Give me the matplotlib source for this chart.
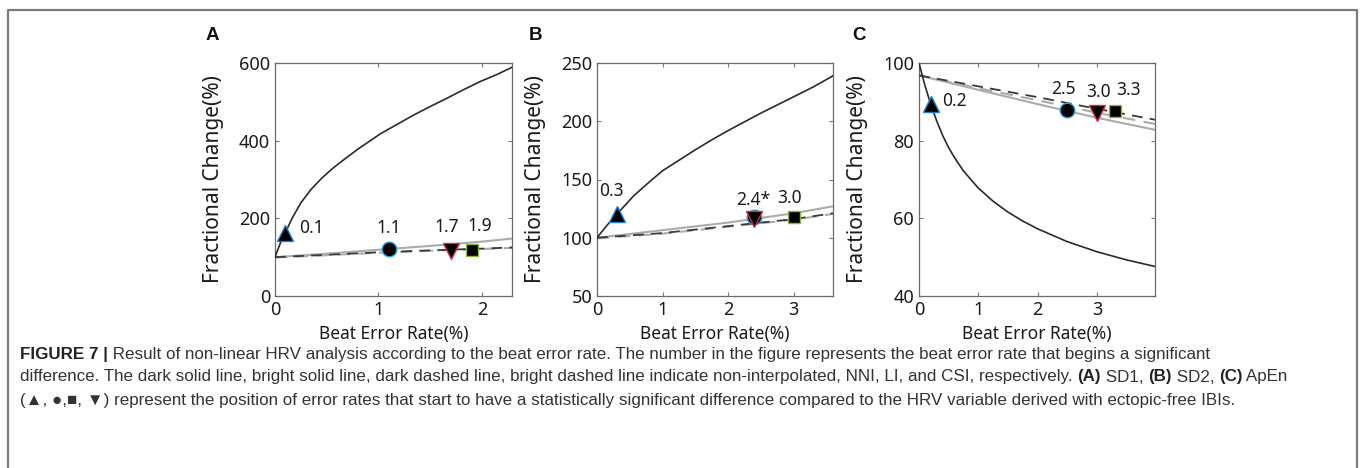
import matplotlib
matplotlib.use("Agg")
import matplotlib.pyplot as plt
from matplotlib.lines import Line2D

# ---------------- data ----------------
# Panel A (SD1)
A_x_dark = [0, 0.05, 0.1, 0.165, 0.25, 0.35, 0.45, 0.55, 0.65, 0.8, 1.02, 1.2, 1.34, 1.5, 1.66, 1.82, 1.98, 2.15, 2.29]
A_y_dark = [100, 135, 163, 200, 240, 275, 303, 327, 348, 378, 418, 445, 466, 488, 509, 531, 552, 571, 589]
A_x_flat = [0, 0.5, 1.0, 1.5, 2.0, 2.29]
A_y_light_solid = [100, 109, 119, 129, 140, 148]
A_y_dark_dashed = [100, 106, 112.5, 117.5, 122, 125]
A_y_light_dashed = [99, 105, 111.5, 116.5, 121, 124]
A_sig_x = [0.1, 1.1, 1.7, 1.9]
A_sig_y = [162, 122, 117, 119]
A_sig_labels = ["0.1", "1.1", "1.7", "1.9"]

# Panel B (SD2)
B_x_dark = [0, 0.15, 0.3, 0.56, 0.8, 1.0, 1.25, 1.5, 1.75, 2.0, 2.25, 2.5, 2.75, 3.0, 3.3, 3.6]
B_y_dark = [100, 110.5, 120, 136, 148, 157.5, 166.5, 175.5, 184, 192, 199.5, 207, 214, 221, 229.5, 239]
B_x_flat = [0, 1.0, 2.0, 3.0, 3.6]
B_y_light_solid = [100, 106.5, 113, 121, 127]
B_y_dark_dashed = [100, 104, 110, 116, 121]
B_y_light_dashed = [99.5, 103.5, 109.5, 115.5, 120.5]
B_sig_x = [0.3, 2.4, 2.4, 3.0]
B_sig_y = [120, 118, 116, 117.5]
B_sig_labels = ["0.3", "", "2.4*", "3.0"]

# Panel C (ApEn)
C_x_dark = [0, 0.1, 0.2, 0.3, 0.4, 0.5, 0.6, 0.75, 1.0, 1.25, 1.5, 1.75, 2.0, 2.5, 3.0, 3.5, 3.98]
C_y_dark = [100, 94.2, 89.3, 85.0, 81.3, 78.2, 75.6, 72.2, 67.8, 64.4, 61.6, 59.3, 57.3, 54.0, 51.4, 49.3, 47.6]
C_x_flat = [0, 1.0, 2.0, 3.0, 3.98]
C_y_light_solid = [96.8, 93.1, 89.4, 85.9, 82.8]
C_y_dark_dashed = [96.8, 94.0, 91.2, 88.2, 85.4]
C_y_light_dashed = [96.8, 93.5, 90.4, 87.2, 84.3]
C_sig_x = [0.2, 2.5, 3.0, 3.3]
C_sig_y = [89.5, 88.0, 87.2, 87.6]
C_sig_labels = ["0.2", "2.5", "3.0", "3.3"]

X_LABEL = "Beat Error Rate(%)"
Y_LABEL = "Fractional Change(%)"
PANEL_LETTERS = ["A", "B", "C"]

CAPTION = [
    [("FIGURE 7 |", True),
     (" Result of non-linear HRV analysis according to the beat error rate. The number in the figure represents the beat error rate that begins a significant", False)],
    [("difference. The dark solid line, bright solid line, dark dashed line, bright dashed line indicate non-interpolated, NNI, LI, and CSI, respectively. ", False),
     ("(A)", True), (" SD1, ", False), ("(B)", True), (" SD2, ", False), ("(C)", True), (" ApEn", False)],
    [("(\u25B2, \u25CF,\u25A0, \u25BC) represent the position of error rates that start to have a statistically significant difference compared to the HRV variable derived with ectopic-free IBIs.", False)],
]

# ---------------- styling ----------------
W, H = 1362, 468
fig = plt.figure(figsize=(W / 100, H / 100), dpi=100)
AX_FONT = ["Noto Sans", "DejaVu Sans"]
CAP_FONT = ["Liberation Sans", "DejaVu Sans"]
DARK = "#2a2a2a"
LIGHT = "#ababab"

# marker styles: triangle, circle, down-triangle, square
MARKERS = [("^", "#1f7fcf", 12), ("o", "#2aa0d8", 10.5), ("v", "#d0304a", 11.5), ("s", "#86b540", 8.5)]


def fx(px):
    return px / W


def fy(py):
    return 1 - py / H


# outer frame (open at bottom)
fig.add_artist(Line2D([fx(8), fx(8), fx(1357), fx(1357)], [0, fy(10), fy(10), 0],
                      transform=fig.transFigure, color="#7a7a7a", lw=1.6))

panels = [
    dict(left=275, right=512, xlim=(0, 2.29), ylim=(0, 600), yticks=[0, 200, 400, 600], xticks=[0, 1, 2],
         xd=A_x_dark, yd=A_y_dark, xf=A_x_flat, ls=A_y_light_solid, dd=A_y_dark_dashed, ld=A_y_light_dashed,
         sx=A_sig_x, sy=A_sig_y, sl=A_sig_labels,
         off=[(10, 4, "left"), (0, 15, "center"), (-3, 17, "center"), (6, 17, "center")]),
    dict(left=597, right=833, xlim=(0, 3.6), ylim=(50, 250), yticks=[50, 100, 150, 200, 250], xticks=[0, 1, 2, 3],
         xd=B_x_dark, yd=B_y_dark, xf=B_x_flat, ls=B_y_light_solid, dd=B_y_dark_dashed, ld=B_y_light_dashed,
         sx=B_sig_x, sy=B_sig_y, sl=B_sig_labels,
         off=[(-4, 17, "center"), (0, 14, "center"), (-1, 14, "center"), (-3, 14, "center")]),
    dict(left=919, right=1155, xlim=(0, 3.98), ylim=(40, 100), yticks=[40, 60, 80, 100], xticks=[0, 1, 2, 3],
         xd=C_x_dark, yd=C_y_dark, xf=C_x_flat, ls=C_y_light_solid, dd=C_y_dark_dashed, ld=C_y_light_dashed,
         sx=C_sig_x, sy=C_sig_y, sl=C_sig_labels,
         off=[(8, 2, "left"), (-3, 15, "center"), (1, 15, "center"), (10, 15, "center")]),
]

AX_TOP, AX_BOT = 63, 296
for i, p in enumerate(panels):
    ax = fig.add_axes([fx(p["left"]), fy(AX_BOT), fx(p["right"] - p["left"]), (AX_BOT - AX_TOP) / H])
    ax.plot(p["xf"], p["ls"], color=LIGHT, lw=1.5, zorder=2)
    ax.plot(p["xf"], p["ld"], color=LIGHT, lw=1.5, ls=(0, (6, 4)), zorder=2)
    ax.plot(p["xf"], p["dd"], color="#3a3a3a", lw=1.3, ls=(0, (6, 4)), zorder=3)
    ax.plot(p["xd"], p["yd"], color=DARK, lw=1.2, zorder=3)
    for j, (mx, my) in enumerate(zip(p["sx"], p["sy"])):
        m, ec, ms = MARKERS[j]
        ax.plot([mx], [my], marker=m, ms=ms, mfc="black", mec=ec, mew=1.0, ls="none", zorder=5)
        lab = p["sl"][j]
        if lab:
            dx, dy, ha = p["off"][j]
            ax.annotate(lab, (mx, my), xytext=(dx, dy), textcoords="offset points", ha=ha, va="center",
                        fontsize=12.5, family=AX_FONT, color="#1a1a1a", zorder=6)
    ax.set_xlim(*p["xlim"])
    ax.set_ylim(*p["ylim"])
    ax.set_xticks(p["xticks"])
    ax.set_yticks(p["yticks"])
    ax.tick_params(direction="in", length=3, width=0.8, top=True, right=True, colors="#777777",
                   labelcolor="#1a1a1a", labelsize=13, pad=3.5)
    for lbl in ax.get_xticklabels() + ax.get_yticklabels():
        lbl.set_family(AX_FONT)
    for s in ax.spines.values():
        s.set_color("#6a6a6a")
        s.set_linewidth(0.9)
    ax.set_xlabel(X_LABEL, fontsize=12.5, family=AX_FONT, color="#1a1a1a")
    ax.set_ylabel(Y_LABEL, fontsize=15, family=AX_FONT, color="#1a1a1a")
    ax.xaxis.set_label_coords(0.5, -0.125)
    ax.yaxis.set_label_coords(-0.215, 0.5)
    fig.text(fx([212, 535, 859][i]), fy(35), PANEL_LETTERS[i], fontsize=13.5, fontweight="bold",
             family=CAP_FONT, color="#111111", ha="center", va="center")

# caption, drawn run by run so bold parts sit inline
renderer = fig.canvas.get_renderer()
cap_y = [354, 377, 400]
for line, ypx in zip(CAPTION, cap_y):
    x = 20
    for txt, bold in line:
        t = fig.text(fx(x), fy(ypx), txt, fontsize=12.25, fontweight="bold" if bold else "normal",
                     family=CAP_FONT, color="#222222" if bold else "#333333", ha="left", va="center")
        x += t.get_window_extent(renderer).width

fig.savefig("out.png", dpi=100)
